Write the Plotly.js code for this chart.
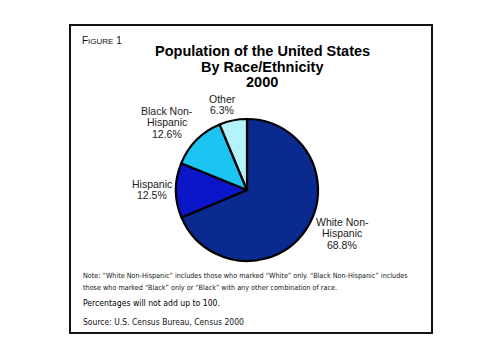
<!DOCTYPE html>
<html><head><meta charset="utf-8">
<script src="https://cdn.plot.ly/plotly-3.0.1.min.js"></script>
<style>html,body{margin:0;padding:0;background:#fff;}#chart{width:504px;height:360px;}</style>
</head><body><div id="chart"></div>
<script>
const categories = ["White Non-Hispanic", "Hispanic", "Black Non-Hispanic", "Other"];
const labelLines = [["White Non-", "Hispanic"], ["Hispanic"], ["Black Non-", "Hispanic"], ["Other"]];
const percents = [68.8, 12.5, 12.6, 6.3];
const colors = ["#0b2a8f", "#0a16c8", "#1cc4f2", "#b5f3fb"];
const titleLines = ["Population of the United States", "By Race/Ethnicity", "2000"];
const noteLines = [
  "Note: \u201cWhite Non-Hispanic\u201d includes those who marked \u201cWhite\u201d only. \u201cBlack Non-Hispanic\u201d includes",
  "those who marked \u201cBlack\u201d only or \u201cBlack\u201d with any other combination of race."
];
const pctNote = "Percentages will not add up to 100.";
const sourceNote = "Source: U.S. Census Bureau, Census 2000";

const W = 504, H = 360;
const px = x => x / W, py = y => 1 - y / H;

// label anchor positions (pixels): centre x, first-line y
const labelPos = [[342, 222], [152, 184], [167, 111], [222, 99]];
const lineGap = 11.3;

const annotations = [];
titleLines.forEach((t, i) => annotations.push({
  text: "<b>" + t + "</b>", x: px(262), y: py(51 + i * 15.5), xref: "paper", yref: "paper",
  xanchor: "center", yanchor: "middle", showarrow: false,
  font: {family: "Liberation Sans, Arial, sans-serif", size: 14.5, color: "#000"}
}));
annotations.push({
  text: "F<span style='font-size:8px'>IGURE</span> 1", x: px(80), y: py(40), xref: "paper", yref: "paper",
  xanchor: "left", yanchor: "middle", showarrow: false,
  font: {family: "Liberation Sans, Arial, sans-serif", size: 10, color: "#111"}
});
categories.forEach((c, i) => {
  const lines = labelLines[i].concat([percents[i].toFixed(1) + "%"]);
  lines.forEach((t, j) => annotations.push({
    text: t, x: px(labelPos[i][0]), y: py(labelPos[i][1] + j * lineGap), xref: "paper", yref: "paper",
    xanchor: "center", yanchor: "middle", showarrow: false,
    font: {family: "Liberation Sans, Arial, sans-serif", size: 10.5, color: "#222"}
  }));
});
noteLines.forEach((t, i) => annotations.push({
  text: t, x: px(81), y: py(275 + i * 12), xref: "paper", yref: "paper",
  xanchor: "left", yanchor: "middle", showarrow: false,
  font: {family: "DejaVu Sans Condensed, DejaVu Sans, sans-serif", size: 7.2, color: "#111"}
}));
annotations.push({
  text: pctNote, x: px(81), y: py(303), xref: "paper", yref: "paper",
  xanchor: "left", yanchor: "middle", showarrow: false,
  font: {family: "DejaVu Sans Condensed, DejaVu Sans, sans-serif", size: 8.6, color: "#000", weight: 500}
});
annotations.push({
  text: sourceNote, x: px(81), y: py(322), xref: "paper", yref: "paper",
  xanchor: "left", yanchor: "middle", showarrow: false,
  font: {family: "DejaVu Sans Condensed, DejaVu Sans, sans-serif", size: 8.5, color: "#111"}
});

const cx = 247, cy = 190, r = 71;
const data = [{
  type: "pie",
  labels: categories,
  values: percents,
  sort: false,
  direction: "clockwise",
  rotation: 0,
  textinfo: "none",
  hoverinfo: "label+percent",
  marker: {colors: colors, line: {color: "#000", width: 2.2}},
  domain: {x: [px(cx - r), px(cx + r)], y: [py(cy + r), py(cy - r)]},
  showlegend: false
}];

const layout = {
  width: W, height: H,
  margin: {l: 0, r: 0, t: 0, b: 0},
  paper_bgcolor: "#fff",
  showlegend: false,
  annotations: annotations,
  shapes: [{type: "rect", xref: "paper", yref: "paper", x0: px(70), x1: px(432), y0: py(333), y1: py(25),
    line: {color: "#111", width: 2}}]
};
Plotly.newPlot("chart", data, layout, {displayModeBar: false, staticPlot: true});
</script></body></html>
